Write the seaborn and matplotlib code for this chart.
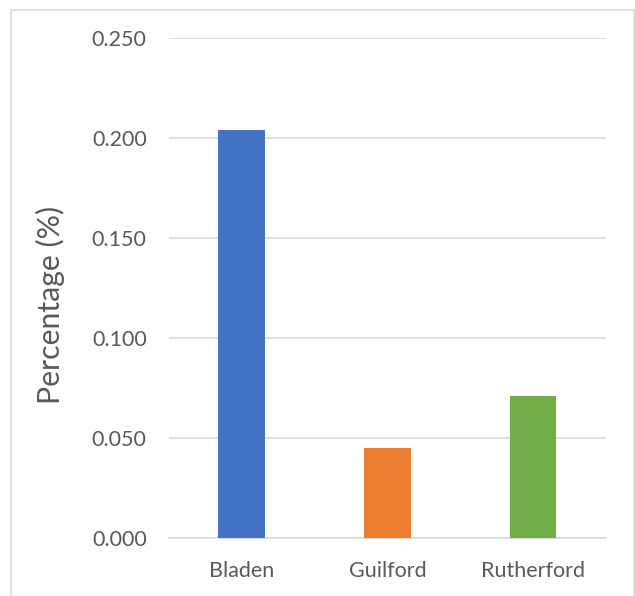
import matplotlib
matplotlib.use("Agg")
import matplotlib.pyplot as plt
import pandas as pd
import seaborn as sns
from matplotlib.lines import Line2D

counties = ["Bladen", "Guilford", "Rutherford"]
percentages = [0.204, 0.045, 0.071]
bar_colors = ["#4472C4", "#ED7D31", "#70AD47"]

sns.set_theme(style="white")
plt.rcParams["font.family"] = ["Lato", "DejaVu Sans"]

df = pd.DataFrame({"County": counties, "Percentage": percentages})

fig = plt.figure(figsize=(6.35, 5.96), dpi=100)
ax = fig.add_axes([0.266, 0.0978, 0.688, 0.839])

sns.barplot(
    data=df,
    x="County",
    y="Percentage",
    hue="County",
    palette=bar_colors,
    saturation=1,
    width=0.32,
    linewidth=0,
    legend=False,
    ax=ax,
    zorder=3,
)

ax.set_xlim(-0.5, 2.5)
ax.set_ylim(0, 0.25)
ax.set_yticks([0, 0.05, 0.10, 0.15, 0.20, 0.25])
ax.set_yticklabels(["0.000", "0.050", "0.100", "0.150", "0.200", "0.250"])
ax.yaxis.grid(True, color="#D9D9D9", linewidth=1.2, zorder=0)
ax.xaxis.grid(False)
for side in ["top", "right", "left"]:
    ax.spines[side].set_visible(False)
ax.spines["bottom"].set_color("#D9D9D9")
ax.spines["bottom"].set_linewidth(1.2)

ax.tick_params(axis="y", length=0, pad=16, labelsize=15.5, labelcolor="#595959")
ax.tick_params(axis="x", length=0, pad=17, labelsize=15.5, labelcolor="#595959")
ax.set_xlabel("")
ax.set_ylabel("Percentage (%)", fontsize=21.8, color="#595959",
              ha="center", va="center")
ax.yaxis.set_label_coords(-0.272, 0.466)

# chart area border (left, top, right)
border = dict(color="#D9D9D9", linewidth=1.2, transform=fig.transFigure)
x0, x1 = 11 / 635, 634 / 635
y1 = 1 - 10 / 596
fig.add_artist(Line2D([x0, x0], [0, y1], **border))
fig.add_artist(Line2D([x0, x1], [y1, y1], **border))
fig.add_artist(Line2D([x1, x1], [0, y1], **border))

fig.savefig("out.png", dpi=100)
